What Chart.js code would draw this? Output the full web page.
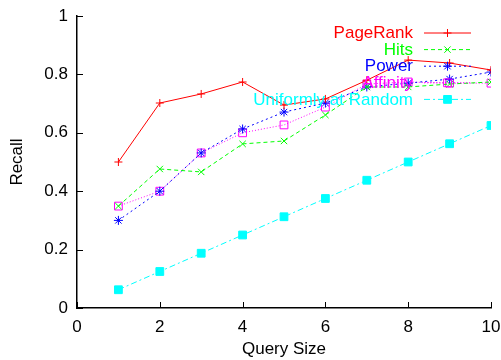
<!DOCTYPE html>
<html>
<head>
<meta charset="utf-8">
<script src="https://cdn.jsdelivr.net/npm/chart.js@4.4.0/dist/chart.umd.min.js"></script>
<style>
  html, body { margin: 0; padding: 0; background: #fff; }
  #wrap { width: 501px; height: 360px; }
</style>
</head>
<body>
<div id="wrap"><canvas id="recall-chart"></canvas></div>
<script>
const querySizes = [1, 2, 3, 4, 5, 6, 7, 8, 9, 10];
const pageRank = [0.5, 0.702, 0.733, 0.774, 0.695, 0.716, 0.78, 0.849, 0.839, 0.815];
const hits = [0.349, 0.476, 0.466, 0.562, 0.572, 0.661, 0.757, 0.757, 0.767, 0.774];
const power = [0.3, 0.4, 0.531, 0.613, 0.671, 0.702, 0.757, 0.77, 0.784, 0.808];
const affinity = [0.349, 0.4, 0.531, 0.6, 0.627, 0.688, 0.767, 0.774, 0.77, 0.77];
const uniform = [0.0625, 0.125, 0.1875, 0.25, 0.3125, 0.375, 0.4375, 0.5, 0.5625, 0.625];
const xTicks = [0, 2, 4, 6, 8, 10];
const yTicks = [0, 0.2, 0.4, 0.6, 0.8, 1];

const FONT = 'Liberation Sans, Arial, sans-serif';
const FONT_SIZE = 17;
Chart.defaults.font.family = FONT;
Chart.defaults.font.size = FONT_SIZE;
Chart.defaults.color = '#000';

const toPoints = (ys) => querySizes.map((x, i) => ({ x: x, y: ys[i] }));

// gnuplot style inward tick marks on left and bottom axes
const inwardTicks = {
  id: 'inwardTicks',
  afterDraw(chart) {
    const { ctx, chartArea: { left, bottom } } = chart;
    const xs = chart.scales.x;
    const ys = chart.scales.y;
    ctx.save();
    ctx.strokeStyle = '#000';
    ctx.lineWidth = 1;
    ctx.beginPath();
    xTicks.forEach((v) => {
      const px = Math.round(xs.getPixelForValue(v)) + 0.5;
      ctx.moveTo(px, bottom);
      ctx.lineTo(px, bottom - 6);
    });
    yTicks.forEach((v) => {
      const py = Math.round(ys.getPixelForValue(v)) + 0.5;
      ctx.moveTo(left, py);
      ctx.lineTo(left + 6, py);
    });
    ctx.stroke();
    ctx.restore();
  },
};

// key in the top right: label right aligned, sample line with marker
const keyBox = {
  id: 'keyBox',
  afterDatasetsDraw(chart) {
    const { ctx } = chart;
    const textRight = 413;
    const lineLeft = 424;
    const lineRight = 471;
    ctx.save();
    ctx.font = FONT_SIZE + 'px ' + FONT;
    ctx.textAlign = 'right';
    ctx.textBaseline = 'middle';
    chart.data.datasets.forEach((ds, i) => {
      const y = 32.5 + i * 16.6;
      ctx.fillStyle = ds.borderColor;
      ctx.fillText(ds.label, textRight, y + 1);
      ctx.strokeStyle = ds.borderColor;
      ctx.lineWidth = 1;
      ctx.setLineDash(ds.borderDash || []);
      ctx.beginPath();
      ctx.moveTo(lineLeft, y + 0.5);
      ctx.lineTo(lineRight, y + 0.5);
      ctx.stroke();
      ctx.setLineDash([]);
      ctx.fillStyle = ds.pointBackgroundColor;
      Chart.helpers.drawPoint(ctx, {
        pointStyle: ds.pointStyle,
        radius: ds.pointRadius,
        borderWidth: 1,
        rotation: 0,
      }, (lineLeft + lineRight) / 2, y + 0.5);
    });
    ctx.restore();
  },
};

const recallConfig = {
  type: 'line',
  data: {
    datasets: [
      {
        label: 'PageRank',
        data: toPoints(pageRank),
        borderColor: '#ff0000',
        pointBorderColor: '#ff0000',
        pointBackgroundColor: '#ff0000',
        pointStyle: 'cross',
        pointRadius: 4,
        borderDash: [],
      },
      {
        label: 'Hits',
        data: toPoints(hits),
        borderColor: '#00ff00',
        pointBorderColor: '#00ff00',
        pointBackgroundColor: '#00ff00',
        pointStyle: 'crossRot',
        pointRadius: 4.5,
        borderDash: [4, 3],
      },
      {
        label: 'Power',
        data: toPoints(power),
        borderColor: '#0000ff',
        pointBorderColor: '#0000ff',
        pointBackgroundColor: '#0000ff',
        pointStyle: 'star',
        pointRadius: 4.5,
        borderDash: [2, 3],
      },
      {
        label: 'Affinity',
        data: toPoints(affinity),
        borderColor: '#ff00ff',
        pointBorderColor: '#ff00ff',
        pointBackgroundColor: 'rgba(0,0,0,0)',
        pointStyle: 'rect',
        pointRadius: 5.5,
        borderDash: [1, 2],
      },
      {
        label: 'Uniformly at Random',
        data: toPoints(uniform),
        borderColor: '#00ffff',
        pointBorderColor: '#00ffff',
        pointBackgroundColor: '#00ffff',
        pointStyle: 'rect',
        pointRadius: 5.5,
        borderDash: [6, 3, 2, 3],
      },
    ],
  },
  options: {
    responsive: true,
    maintainAspectRatio: false,
    animation: false,
    elements: {
      line: { borderWidth: 1, tension: 0, fill: false },
      point: { borderWidth: 1, hoverRadius: 5 },
    },
    layout: {
      padding: { top: 16, right: 10, left: 0, bottom: 0 },
    },
    plugins: {
      legend: { display: false },
      tooltip: { enabled: false },
    },
    scales: {
      x: {
        type: 'linear',
        min: 0,
        max: 10,
        afterBuildTicks: (scale) => {
          scale.ticks = xTicks.map((v) => ({ value: v }));
        },
        afterFit: (scale) => {
          scale.height = 52;
          scale.paddingLeft = 0;
          scale.paddingRight = 0;
        },
        grid: { display: false, drawTicks: false },
        border: { display: true, color: '#000', width: 1.5 },
        ticks: { padding: 9, callback: (v) => String(v) },
        title: {
          display: true,
          text: 'Query Size',
          padding: { top: 0, bottom: 0 },
        },
      },
      y: {
        type: 'linear',
        min: 0,
        max: 1,
        afterBuildTicks: (scale) => {
          scale.ticks = yTicks.map((v) => ({ value: v }));
        },
        afterFit: (scale) => {
          scale.width = 77;
          scale.paddingTop = 0;
          scale.paddingBottom = 0;
        },
        grid: { display: false, drawTicks: false },
        border: { display: true, color: '#000', width: 1.5 },
        ticks: { padding: 9, callback: (v) => String(v) },
        title: {
          display: true,
          text: 'Recall',
          padding: { top: 7, bottom: 0 },
        },
      },
    },
  },
  plugins: [inwardTicks, keyBox],
};

const ctxRecall = document.getElementById('recall-chart').getContext('2d');
const recallChart = new Chart(ctxRecall, recallConfig);
</script>
</body>
</html>
